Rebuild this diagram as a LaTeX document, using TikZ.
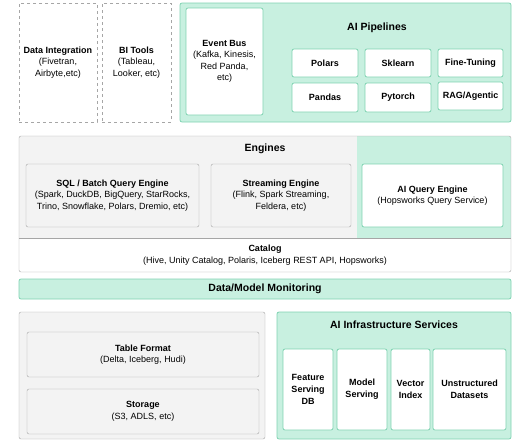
\documentclass[tikz,border=0pt]{standalone}
\usepackage{fontspec}
\setmainfont{Liberation Sans}
\usepackage{xcolor}
\usetikzlibrary{positioning}

\definecolor{aigreen}{HTML}{C8F0E0}
\definecolor{aiedge}{HTML}{7FD3B2}
\definecolor{layergray}{HTML}{F3F3F3}
\definecolor{layeredge}{HTML}{A6A6A6}

\begin{document}
\begin{tikzpicture}[x=1pt, y=-1pt,
    box/.style={draw=layeredge, rounded corners=2pt, fill=layergray, align=center, inner sep=1pt,
        font=\fontsize{9}{11.5}\selectfont},
    aibox/.style={box, draw=aiedge, fill=white, line width=0.8pt},
    group/.style={draw=layeredge, rounded corners=2pt, fill=layergray},
    aigroup/.style={draw=aiedge, rounded corners=2pt, fill=aigreen, line width=0.8pt},
    ext/.style={draw=gray!70, dashed, fill=white, align=center, inner sep=1pt,
        font=\fontsize{9}{11.5}\selectfont},
    title/.style={font=\fontsize{10.5}{12}\selectfont\bfseries, align=center},
    tool/.style={aibox, minimum width=66pt, font=\fontsize{9}{11}\selectfont\bfseries}
]
\useasboundingbox (0,0) rectangle (530,442);

% --- Top row ---
\node[ext, minimum width=78pt, minimum height=119pt] (integ) at (58,62.5)
    {\textbf{Data Integration}\\(Fivetran,\\Airbyte,etc)};
\node[ext, minimum width=69pt, minimum height=119pt] (bi) at (136.5,62.5)
    {\textbf{BI Tools}\\(Tableau,\\Looker, etc)};
\node[aigroup, minimum width=331pt, minimum height=119pt] (pipes) at (345.5,62.5) {};
\node[aibox, minimum width=77pt, minimum height=107pt] (bus) at (224.5,61.5)
    {\textbf{Event Bus}\\(Kafka, Kinesis,\\Red Panda,\\etc)};
\node[title] (tpipes) at (377,28) {AI Pipelines};
\node[tool, minimum height=28pt] (polars) at (325,63) {Polars};
\node[tool, minimum height=28pt] (sklearn) at (398,63) {Sklearn};
\node[tool, minimum width=65pt, minimum height=28pt] (finetune) at (470.5,63) {Fine-Tuning};
\node[tool, minimum height=29pt] (pandas) at (325,97.5) {Pandas};
\node[tool, minimum height=29pt] (pytorch) at (398,97.5) {Pytorch};
\node[tool, minimum width=65pt, minimum height=28pt] (rag) at (470.5,96) {RAG/Agentic};

% --- Engines + Catalog ---
\begin{scope}
  \clip[rounded corners=2pt] (19,136) rectangle (511,272);
  \fill[layergray] (19,136) rectangle (357,238);
  \fill[aigreen] (357,136) rectangle (511,238);
  \fill[white] (19,238) rectangle (511,272);
\end{scope}
\node[draw=layeredge, rounded corners=2pt, minimum width=492pt, minimum height=136pt] (engines) at (265,204) {};
\draw[layeredge] (engines.west |- 0,238) -- (engines.east |- 0,238);
\node[title] (tengines) at (265,149) {Engines};
\node[box, minimum width=173pt, minimum height=63pt] (sql) at (112.5,195.5)
    {\textbf{SQL / Batch Query Engine}\\(Spark, DuckDB, BigQuery, StarRocks,\\Trino, Snowflake, Polars, Dremio, etc)};
\node[box, minimum width=140pt, minimum height=63pt] (stream) at (281,195.5)
    {\textbf{Streaming Engine}\\(Flink, Spark Streaming,\\Feldera, etc)};
\node[aibox, minimum width=141pt, minimum height=63pt] (aiquery) at (432.5,195.5)
    {\textbf{AI Query Engine}\\(Hopsworks Query Service)};
\node[align=center, font=\fontsize{9}{11.5}\selectfont] (catalog) at (265,255)
    {\textbf{Catalog}\\(Hive, Unity Catalog, Polaris, Iceberg REST API, Hopsworks)};

% --- Monitoring ---
\node[aigroup, minimum width=492pt, minimum height=20pt, font=\fontsize{10.5}{12}\selectfont\bfseries] (monitor) at (265,289)
    {Data/Model Monitoring};

% --- Storage column ---
\node[group, minimum width=246pt, minimum height=127pt] (lake) at (142,375.5) {};
\node[box, minimum width=232pt, minimum height=45pt] (table) at (143,354.5)
    {\textbf{Table Format}\\(Delta, Iceberg, Hudi)};
\node[box, minimum width=232pt, minimum height=45pt] (storage) at (143,411.5)
    {\textbf{Storage}\\(S3, ADLS, etc)};

% --- AI Infrastructure column ---
\node[aigroup, minimum width=234pt, minimum height=127pt] (infra) at (394,375.5) {};
\node[title] (tinfra) at (394,325) {AI Infrastructure Services};
\node[aibox, minimum width=50pt, minimum height=81pt, font=\fontsize{9}{12}\selectfont\bfseries] (featdb) at (308,389.5)
    {Feature\\Serving\\DB};
\node[aibox, minimum width=50pt, minimum height=81pt, font=\fontsize{9}{12}\selectfont\bfseries] (modelsrv) at (362,389.5)
    {Model\\Serving};
\node[aibox, minimum width=39pt, minimum height=81pt, font=\fontsize{9}{12}\selectfont\bfseries] (vector) at (410.5,389.5)
    {Vector\\Index};
\node[aibox, minimum width=73pt, minimum height=81pt, font=\fontsize{9}{12}\selectfont\bfseries] (unstruct) at (469.5,389.5)
    {Unstructured\\Datasets};

\end{tikzpicture}
\end{document}
